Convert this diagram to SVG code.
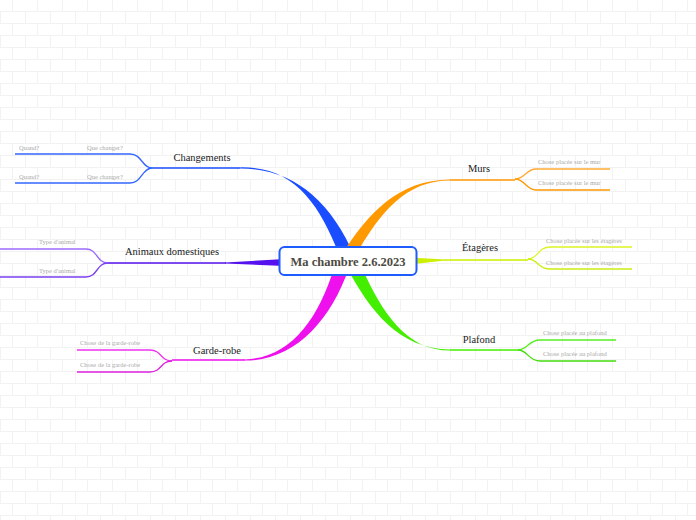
<svg xmlns="http://www.w3.org/2000/svg" width="696" height="520" viewBox="0 0 696 520">
<defs>
<pattern id="brick" width="50" height="24" patternUnits="userSpaceOnUse">
<rect width="50" height="24" fill="#ffffff"/>
<path d="M0,11.5H50M0,23.5H50M12.5,0V11.5M37.5,0V11.5M0.5,12V24M25.5,12V24" stroke="#f2f2f2" stroke-width="1" fill="none"/>
</pattern>
</defs>
<style>
.main{font-family:"Liberation Serif",serif;font-size:10.5px;fill:#222}
.sub{font-family:"Liberation Serif",serif;font-size:6.5px;fill:#aaaaaa}
.line{fill:none;stroke-width:1.3}
.root{font-family:"Liberation Serif",serif;font-size:12.5px;font-weight:bold;fill:#4d4a3f}
</style>
<rect width="696" height="520" fill="url(#brick)"/>
<g id="connectors">
<!-- Changements -->
<path d="M240,167.4 C294,166 320,203 342,262 L357,262 C332,201 294,168.6 240,168.6 Z" fill="#1a4dff"/>
<path class="line" stroke="#1a4dff" d="M240,168 H152"/>
<path class="line" stroke="#3366ff" d="M152,168 C142,168 142,154 130,154 H15"/>
<path class="line" stroke="#3366ff" d="M152,168 C142,168 142,183 130,183 H15"/>
<!-- Animaux -->
<path d="M225,262.5 L285,259 L285,266 L225,263.5 Z" fill="#5511ee"/>
<path class="line" stroke="#5511ee" d="M226,263 H108"/>
<path class="line" stroke="#9a6bff" d="M108,263 C96,263 98,249 86,249 H0"/>
<path class="line" stroke="#7a40f0" d="M108,263 C96,263 98,277 86,277 H0"/>
<!-- Garde-robe -->
<path d="M245,359.4 C290,358 318,320 334,268 L349,268 C330,322 294,360.6 245,360.6 Z" fill="#ee11ee"/>
<path class="line" stroke="#ee11ee" d="M245,360 H172"/>
<path class="line" stroke="#ee33ee" d="M172,361 C160,361 162,350 150,350 H77"/>
<path class="line" stroke="#dd22dd" d="M172,361 C160,361 162,372 150,372 H77"/>
<!-- Murs -->
<path d="M450,179.4 C396,180 366,215 337,262 L352,262 C378,215 404,180.6 450,180.6 Z" fill="#ff9900"/>
<path class="line" stroke="#ff9900" d="M450,180 H515"/>
<path class="line" stroke="#ffaa33" d="M515,179 C525,179 526,169 536,169 H610"/>
<path class="line" stroke="#ff9900" d="M515,179 C525,179 526,190 536,190 H610"/>
<!-- Étagères -->
<path d="M410,257.5 L445,259.5 L445,260.5 L410,264.5 Z" fill="#ccf000"/>
<path class="line" stroke="#ccf000" d="M444,260 H528"/>
<path class="line" stroke="#ddf522" d="M528,259 C538,259 538,247 550,247 H632"/>
<path class="line" stroke="#ccee11" d="M528,259 C538,259 538,269 550,269 H632"/>
<!-- Plafond -->
<path d="M450,349.4 C398,349 370,310 347,268 L362,268 C382,312 406,350.6 450,350.6 Z" fill="#44ee00"/>
<path class="line" stroke="#44ee00" d="M450,350 H518"/>
<path class="line" stroke="#55ee22" d="M518,350 C528,350 528,340 540,340 H616"/>
<path class="line" stroke="#44dd11" d="M518,350 C528,350 528,361 540,361 H616"/>
</g>
<g id="root">
<rect x="279.5" y="247" width="137" height="28" rx="5" fill="#ffffff" stroke="#1f5cff" stroke-width="2"/>
<text class="root" x="348" y="265.5" text-anchor="middle">Ma chambre 2.6.2023</text>
</g>
<g id="changements">
<text class="main" x="202" y="160.5" text-anchor="middle">Changements</text>
<text class="sub" x="19" y="149.5">Quand?</text>
<text class="sub" x="87" y="149.5">Que changer?</text>
<text class="sub" x="19" y="178.5">Quand?</text>
<text class="sub" x="87" y="178.5">Que changer?</text>
</g>
<g id="animaux">
<text class="main" x="172" y="255" text-anchor="middle">Animaux domestiques</text>
<text class="sub" x="39" y="244">Type d'animal</text>
<text class="sub" x="39" y="272.5">Type d'animal</text>
</g>
<g id="garderobe">
<text class="main" x="217" y="353.5" text-anchor="middle">Garde-robe</text>
<text class="sub" x="80" y="345">Chose de la garde-robe</text>
<text class="sub" x="80" y="367">Chose de la garde-robe</text>
</g>
<g id="murs">
<text class="main" x="479" y="172" text-anchor="middle">Murs</text>
<text class="sub" x="538" y="163.5">Chose placée sur le mur</text>
<text class="sub" x="538" y="185">Chose placée sur le mur</text>
</g>
<g id="etageres">
<text class="main" x="480" y="250.5" text-anchor="middle">Étagères</text>
<text class="sub" x="546" y="242.5">Chose placée sur les étagères</text>
<text class="sub" x="546" y="264.5">Chose placée sur les étagères</text>
</g>
<g id="plafond">
<text class="main" x="479" y="343" text-anchor="middle">Plafond</text>
<text class="sub" x="543" y="334.5">Chose placée au plafond</text>
<text class="sub" x="543" y="356">Chose placée au plafond</text>
</g>
</svg>
